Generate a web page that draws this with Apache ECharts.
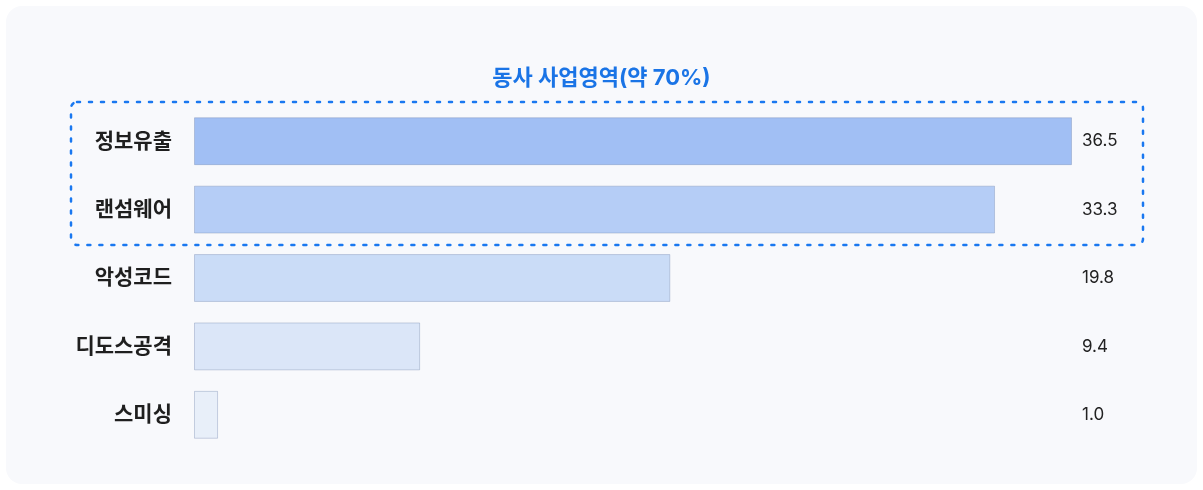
<!DOCTYPE html>
<html lang="ko">
<head>
  <meta charset="utf-8">
  <title>Chart</title>
  <script src="https://cdn.jsdelivr.net/npm/echarts@6/dist/echarts.min.js"></script>
  <style>
    html, body { margin: 0; padding: 0; background: #ffffff; }
  </style>
</head>
<body>
<div id="main" style="width: 1203px;height:490px;"></div>
<script type="text/javascript">
    var categories = ['정보유출', '랜섬웨어', '악성코드', '디도스공격', '스미싱'];
    var values = [36.5, 33.3, 19.8, 9.4, 1.0];
    var valueLabels = ['36.5', '33.3', '19.8', '9.4', '1.0'];
    var barColors = ['#a1bff4', '#b5cdf6', '#cadcf7', '#dbe6f8', '#e8eff9'];

    var myChart = echarts.init(document.getElementById('main'));
    // Inter for latin / digits, Noto CJK for hangul
    var font = 'Inter, "Noto Sans CJK KR", sans-serif';

    var option = {
        animation: false,
        textStyle: { fontFamily: font },
        graphic: [{
            type: 'rect',
            z: -10,
            silent: true,
            shape: { x: 6, y: 6, width: 1191, height: 478, r: 16 },
            style: { fill: '#f8f9fc' }
        }, {
            type: 'rect',
            z: 10,
            silent: true,
            shape: { x: 71, y: 102, width: 1072, height: 143, r: 6 },
            style: {
                fill: 'none',
                stroke: '#1a78f0',
                lineWidth: 2.5,
                lineDash: [3, 9],
                lineCap: 'round'
            }
        }],
        title: {
            text: '동사 사업영역(약 70%)',
            left: 'center',
            top: 62,
            textStyle: {
                fontFamily: font,
                fontSize: 22,
                fontWeight: 'bold',
                color: '#1a74e6'
            }
        },
        grid: {
            left: 194,
            right: 131,
            top: 107,
            bottom: 41
        },
        xAxis: {
            type: 'value',
            min: 0,
            max: 36.5,
            show: false
        },
        yAxis: [{
            type: 'category',
            data: categories,
            inverse: true,
            axisLine: { show: false },
            axisTick: { show: false },
            axisLabel: {
                margin: 22,
                fontSize: 21,
                fontWeight: 600,
                color: '#1f1f1f',
                fontFamily: font
            }
        }, {
            type: 'category',
            data: valueLabels,
            inverse: true,
            position: 'right',
            axisLine: { show: false },
            axisTick: { show: false },
            axisLabel: {
                margin: 10,
                align: 'left',
                fontSize: 17,
                color: '#222222',
                fontFamily: font
            }
        }],
        series: [{
            type: 'bar',
            data: values.map(function (v, i) {
                return {
                    value: v,
                    itemStyle: { color: barColors[i] }
                };
            }),
            barCategoryGap: '30%',
            itemStyle: {
                borderColor: 'rgba(110, 130, 170, 0.35)',
                borderWidth: 1
            }
        }]
    };

    myChart.setOption(option);
</script>
</body>
</html>
